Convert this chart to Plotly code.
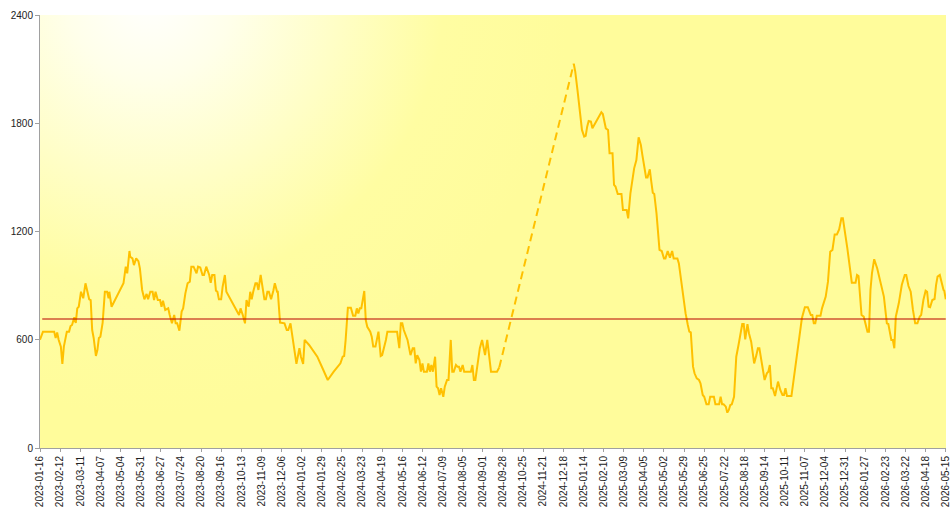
import base64
import plotly.graph_objects as go

# ---- data ----
DATES_A = ["2023-01-16","2023-01-20","2023-02-04","2023-02-06","2023-02-08","2023-02-10","2023-02-13","2023-02-15","2023-02-17","2023-02-21","2023-02-24","2023-02-26","2023-02-28","2023-03-03","2023-03-05","2023-03-07","2023-03-09","2023-03-12","2023-03-15","2023-03-18","2023-03-23","2023-03-25","2023-03-27","2023-03-29","2023-04-01","2023-04-03","2023-04-05","2023-04-07","2023-04-10","2023-04-13","2023-04-16","2023-04-18","2023-04-19","2023-04-22","2023-05-08","2023-05-11","2023-05-13","2023-05-16","2023-05-17","2023-05-20","2023-05-22","2023-05-25","2023-05-28","2023-05-30","2023-06-02","2023-06-05","2023-06-08","2023-06-10","2023-06-13","2023-06-16","2023-06-18","2023-06-20","2023-06-23","2023-06-26","2023-06-28","2023-06-30","2023-07-03","2023-07-07","2023-07-09","2023-07-12","2023-07-15","2023-07-17","2023-07-19","2023-07-22","2023-07-25","2023-07-27","2023-07-30","2023-08-02","2023-08-05","2023-08-07","2023-08-10","2023-08-14","2023-08-16","2023-08-19","2023-08-22","2023-08-24","2023-08-27","2023-08-29","2023-08-31","2023-09-02","2023-09-04","2023-09-07","2023-09-09","2023-09-11","2023-09-13","2023-09-16","2023-09-18","2023-09-21","2023-09-23","2023-10-10","2023-10-12","2023-10-15","2023-10-17","2023-10-18","2023-10-20","2023-10-23","2023-10-25","2023-10-27","2023-10-29","2023-11-01","2023-11-03","2023-11-05","2023-11-08","2023-11-10","2023-11-13","2023-11-15","2023-11-17","2023-11-19","2023-11-22","2023-11-25","2023-11-27","2023-11-30","2023-12-01","2023-12-04","2023-12-07","2023-12-10","2023-12-13","2023-12-15","2023-12-18","2023-12-21","2023-12-22","2023-12-26","2023-12-30","2024-01-01","2024-01-04","2024-01-06","2024-01-12","2024-01-23","2024-01-30","2024-02-06","2024-02-14","2024-02-23","2024-02-26","2024-02-28","2024-03-01","2024-03-04","2024-03-08","2024-03-11","2024-03-14","2024-03-16","2024-03-18","2024-03-20","2024-03-22","2024-03-26","2024-03-28","2024-03-30","2024-04-03","2024-04-05","2024-04-07","2024-04-10","2024-04-14","2024-04-17","2024-04-19","2024-04-22","2024-04-24","2024-04-26","2024-05-09","2024-05-12","2024-05-14","2024-05-16","2024-05-18","2024-05-23","2024-05-25","2024-05-27","2024-05-30","2024-06-01","2024-06-03","2024-06-05","2024-06-08","2024-06-10","2024-06-12","2024-06-14","2024-06-18","2024-06-20","2024-06-22","2024-06-24","2024-06-26","2024-06-29","2024-07-01","2024-07-03","2024-07-05","2024-07-07","2024-07-10","2024-07-12","2024-07-15","2024-07-17","2024-07-20","2024-07-22","2024-07-24","2024-07-27","2024-07-29","2024-07-31","2024-08-02","2024-08-05","2024-08-07","2024-08-16","2024-08-18","2024-08-20","2024-08-22","2024-08-26","2024-08-28","2024-08-31","2024-09-04","2024-09-07","2024-09-12","2024-09-20","2024-09-23"]
VALUES_A = [600,645,645,610,640,600,562,466,562,645,645,676,682,724,693,774,783,866,830,913,824,820,654,610,510,543,610,617,693,866,866,830,866,783,913,1005,968,1092,1060,1051,1014,1051,1036,996,876,824,854,824,866,866,820,866,820,820,783,816,765,774,737,691,737,691,691,650,756,774,857,913,922,1005,1005,968,1005,1000,959,959,1005,977,959,916,959,959,872,866,824,824,894,959,866,737,774,737,691,691,820,783,866,824,866,913,913,876,959,903,824,824,866,866,824,872,913,866,866,695,691,691,654,654,691,602,599,466,553,506,466,599,571,506,442,377,423,469,506,510,599,778,778,733,733,774,745,774,774,870,709,672,645,617,562,562,645,510,515,562,599,645,645,553,691,691,654,599,562,515,553,553,469,515,488,423,469,423,423,469,423,460,423,506,340,331,294,331,284,340,377,377,599,423,423,460,451,451,423,460,423,423,460,377,377,488,553,599,515,599,423,423,446]

DATES_B = ["2025-01-01","2025-01-03","2025-01-06","2025-01-08","2025-01-10","2025-01-12","2025-01-15","2025-01-17","2025-01-19","2025-01-21","2025-01-24","2025-01-26","2025-02-07","2025-02-09","2025-02-13","2025-02-16","2025-02-18","2025-02-22","2025-02-24","2025-02-26","2025-03-01","2025-03-06","2025-03-08","2025-03-13","2025-03-15","2025-03-18","2025-03-23","2025-03-26","2025-03-29","2025-04-01","2025-04-03","2025-04-06","2025-04-08","2025-04-10","2025-04-13","2025-04-15","2025-04-17","2025-04-19","2025-04-22","2025-04-26","2025-04-29","2025-05-02","2025-05-04","2025-05-07","2025-05-10","2025-05-13","2025-05-15","2025-05-20","2025-05-22","2025-05-25","2025-05-29","2025-05-31","2025-06-03","2025-06-05","2025-06-07","2025-06-10","2025-06-12","2025-06-15","2025-06-18","2025-06-20","2025-06-23","2025-06-25","2025-06-28","2025-07-01","2025-07-03","2025-07-08","2025-07-10","2025-07-15","2025-07-17","2025-07-19","2025-07-21","2025-07-24","2025-07-26","2025-07-28","2025-07-30","2025-08-01","2025-08-04","2025-08-07","2025-08-10","2025-08-15","2025-08-17","2025-08-19","2025-08-22","2025-08-24","2025-08-27","2025-08-31","2025-09-03","2025-09-05","2025-09-07","2025-09-11","2025-09-14","2025-09-17","2025-09-19","2025-09-21","2025-09-23","2025-09-25","2025-09-28","2025-10-02","2025-10-05","2025-10-08","2025-10-10","2025-10-12","2025-10-14","2025-10-20","2025-10-25","2025-11-03","2025-11-07","2025-11-11","2025-11-15","2025-11-17","2025-11-19","2025-11-21","2025-11-23","2025-11-28","2025-11-30","2025-12-05","2025-12-08","2025-12-11","2025-12-14","2025-12-17","2025-12-20","2025-12-23","2025-12-26","2025-12-28","2026-01-03","2026-01-06","2026-01-09","2026-01-14","2026-01-16","2026-01-18","2026-01-22","2026-01-25","2026-01-27","2026-01-30","2026-02-01","2026-02-03","2026-02-05","2026-02-08","2026-02-12","2026-02-16","2026-02-21","2026-02-25","2026-02-27","2026-03-03","2026-03-05","2026-03-07","2026-03-09","2026-03-13","2026-03-17","2026-03-21","2026-03-23","2026-03-26","2026-03-29","2026-04-01","2026-04-04","2026-04-07","2026-04-10","2026-04-12","2026-04-15","2026-04-18","2026-04-20","2026-04-22","2026-04-24","2026-04-27","2026-04-30","2026-05-02","2026-05-04","2026-05-07","2026-05-10","2026-05-12","2026-05-13","2026-05-15"]
VALUES_B = [2130,2086,1984,1901,1837,1763,1726,1730,1781,1813,1810,1772,1861,1851,1772,1763,1634,1634,1458,1449,1408,1408,1319,1319,1273,1412,1550,1596,1722,1680,1625,1559,1500,1500,1545,1476,1415,1408,1300,1098,1092,1051,1051,1092,1055,1092,1051,1051,1023,931,802,746,682,645,641,451,414,386,377,359,294,284,242,242,284,284,242,242,284,242,242,229,196,211,238,242,284,506,571,687,687,602,687,636,589,469,515,553,553,451,377,414,423,460,331,331,288,368,322,294,294,331,288,288,451,719,780,780,737,737,691,691,733,733,774,839,922,1088,1098,1184,1184,1212,1273,1273,1107,996,916,916,959,953,737,728,691,645,645,876,968,1046,996,922,839,691,687,599,599,553,728,802,903,959,959,898,866,765,691,691,728,737,820,872,866,783,780,820,826,903,950,959,903,876,872,824]

AVERAGE = 715
X_START = "2023-01-16"
X_END = "2026-05-15"
X_RANGE_END = "2026-05-15 08:00"
AVG_START = "2023-01-19"
TICK_DATES = ["2023-01-16","2023-02-12","2023-03-11","2023-04-07","2023-05-04","2023-05-31","2023-06-27","2023-07-24","2023-08-20","2023-09-16","2023-10-13","2023-11-09","2023-12-06","2024-01-02","2024-01-29","2024-02-25","2024-03-23","2024-04-19","2024-05-16","2024-06-12","2024-07-09","2024-08-05","2024-09-01","2024-09-28","2024-10-25","2024-11-21","2024-12-18","2025-01-14","2025-02-10","2025-03-09","2025-04-05","2025-05-02","2025-05-29","2025-06-25","2025-07-22","2025-08-18","2025-09-14","2025-10-11","2025-11-07","2025-12-04","2025-12-31","2026-01-27","2026-02-23","2026-03-22","2026-04-18","2026-05-15"]
Y_TICKS = [0, 600, 1200, 1800, 2400]

LINE_COLOR = "#FFC000"
AVG_COLOR = "#B80000"

# gradient background for the plot area (white top-left -> yellow)
svg = (
    '<svg xmlns="http://www.w3.org/2000/svg" width="906" height="433" viewBox="0 0 906 433" preserveAspectRatio="none">'
    '<defs><radialGradient id="g" gradientUnits="userSpaceOnUse" cx="110" cy="-20" r="420">'
    '<stop offset="0" stop-color="#FFFFFF"/>'
    '<stop offset="0.2" stop-color="#FFFFEA"/>'
    '<stop offset="0.7" stop-color="#FFFDA2"/>'
    '<stop offset="1" stop-color="#FFFC9B"/>'
    '</radialGradient></defs>'
    '<rect width="906" height="433" fill="#FFFC9B"/>'
    '<rect width="906" height="433" fill="url(#g)"/>'
    '</svg>'
)
svg_uri = "data:image/svg+xml;base64," + base64.b64encode(svg.encode()).decode()

fig = go.Figure()

fig.add_trace(go.Scatter(x=DATES_A, y=VALUES_A, mode="lines",
                         line=dict(color=LINE_COLOR, width=2), showlegend=False))
fig.add_trace(go.Scatter(x=[DATES_A[-1], DATES_B[0]], y=[VALUES_A[-1], VALUES_B[0]],
                         mode="lines", line=dict(color=LINE_COLOR, width=2, dash="8px,5px"),
                         showlegend=False))
fig.add_trace(go.Scatter(x=DATES_B, y=VALUES_B, mode="lines",
                         line=dict(color=LINE_COLOR, width=2), showlegend=False))
fig.add_trace(go.Scatter(x=[AVG_START, X_END], y=[AVERAGE, AVERAGE], mode="lines",
                         line=dict(color=AVG_COLOR, width=1), showlegend=False))

fig.update_layout(
    width=952, height=531,
    margin=dict(l=40, r=6, t=15, b=83, autoexpand=False),
    paper_bgcolor="#FFFFFF",
    plot_bgcolor="rgba(0,0,0,0)",
    font=dict(family="Liberation Sans, Arial, sans-serif", size=10, color="#222222"),
    images=[dict(source=svg_uri, xref="paper", yref="paper", x=0, y=1,
                 sizex=1, sizey=1, sizing="stretch", layer="below")],
    xaxis=dict(
        type="date", range=[X_START, X_RANGE_END], automargin=False,
        tickmode="array", tickvals=TICK_DATES, ticktext=TICK_DATES,
        tickangle=-90, ticks="outside", ticklen=3, tickcolor="#A0A0A0",
        ticklabeloverflow="allow",
        showgrid=False, zeroline=False, showline=True, linecolor="#A0A0A0", linewidth=1,
        tickfont=dict(size=10),
    ),
    yaxis=dict(
        range=[0, 2400], tickmode="array", tickvals=Y_TICKS, automargin=False,
        ticks="outside", ticklen=4, tickcolor="#A0A0A0",
        ticklabeloverflow="allow",
        showgrid=False, zeroline=False, showline=True, linecolor="#A0A0A0", linewidth=1,
        tickfont=dict(size=10),
    ),
)

fig.write_html(
    "out.html",
    config={"displayModeBar": False},
    post_script="document.body.style.margin='0';document.body.style.overflow='hidden';",
)
